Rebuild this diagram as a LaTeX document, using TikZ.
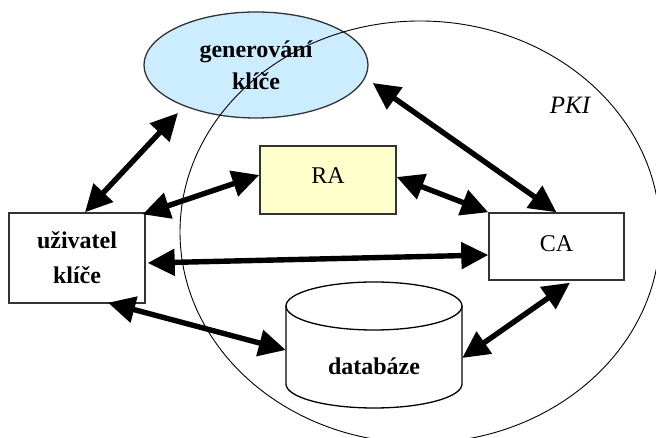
\documentclass[tikz,border=0pt]{standalone}
\usepackage{fontspec}
\setmainfont{Liberation Serif}
\usetikzlibrary{arrows.meta,shapes.geometric}
\definecolor{genblue}{HTML}{CCECFF}
\definecolor{rayellow}{HTML}{FFFFCC}
\definecolor{boxline}{HTML}{333333}
\begin{document}
\begin{tikzpicture}[x=1pt,y=1pt,
  txt/.style={font=\fontsize{24}{33}\selectfont, align=center, inner sep=0pt},
  boxnode/.style={txt, draw=boxline, line width=1.4pt, rectangle},
  bigarrow/.style={line width=5.4pt, {Triangle[length=27pt,width=26pt]}-{Triangle[length=27pt,width=26pt]}},
]
\useasboundingbox (0,0) rectangle (656,438);
\fill[white] (0,0) rectangle (656,438);

% key generation ellipse
\node[txt, ellipse, draw=boxline, line width=1.3pt, fill=genblue,
      minimum width=224pt, minimum height=106pt, font=\bfseries\fontsize{24}{32}\selectfont]
      (gen) at (256,373) {generování\\klíče};

% PKI region
\draw[line width=0.9pt] (420,206) ellipse [x radius=240, y radius=211];
\node[txt, font=\itshape\fontsize{25}{30}\selectfont] (pki) at (570,333) {PKI};

% boxes
\node[boxnode, minimum width=136pt, minimum height=90pt, font=\bfseries\fontsize{24}{35}\selectfont]
      (uziv) at (77,180) {uživatel\\klíče};
\node[boxnode, fill=rayellow, minimum width=136pt, minimum height=68pt]
      (ra) at (328,258) {\raisebox{8pt}{RA}};
\node[boxnode, minimum width=135pt, minimum height=67pt]
      (ca) at (556.5,191.5) {\raisebox{6pt}{CA}};

% database cylinder
\draw[line width=1.3pt, fill=white]
  (286,132) -- (286,54) arc[start angle=180, end angle=360, x radius=88, y radius=24]
  -- (462,132);
\draw[line width=1.3pt] (374,132) ellipse [x radius=88, y radius=24];
\node[txt, font=\bfseries\fontsize{24}{30}\selectfont, minimum width=176pt, minimum height=76pt]
      (db) at (374,70) {\raisebox{3pt}{databáze}};

% connectors
\draw[bigarrow] ([xshift=8pt]uziv.north) -- ([xshift=-78pt,yshift=-48pt]gen.center);
\draw[bigarrow] ([xshift=-3pt,yshift=-2pt]uziv.north east) -- ([yshift=5pt]ra.west);
\draw[bigarrow] ([xshift=2pt,yshift=-5pt]uziv.east) -- ([yshift=-8.5pt]ca.west);
\draw[bigarrow] ([xshift=31pt,yshift=1pt]uziv.south) -- ([yshift=18pt]db.west);
\draw[bigarrow] ([yshift=3pt]ra.east) -- (ca.north west);
\draw[bigarrow] ([xshift=4pt,yshift=-18pt]gen.east) -- (ca.north);
\draw[bigarrow] ([xshift=13.5pt,yshift=-2pt]ca.south) -- ([yshift=10pt]db.east);
\end{tikzpicture}
\end{document}
